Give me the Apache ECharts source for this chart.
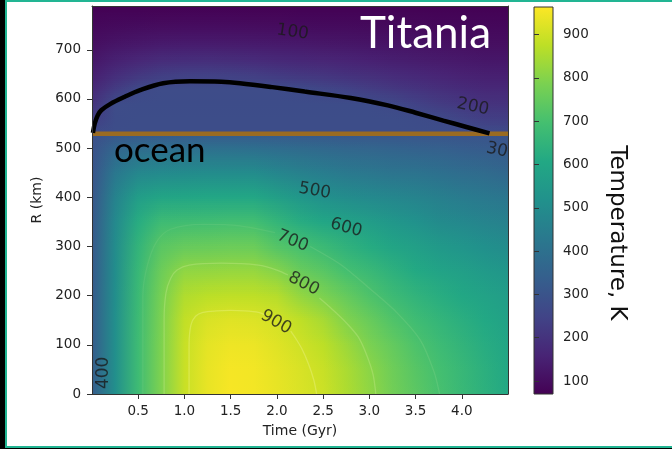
<!DOCTYPE html>
<html>
<head>
<meta charset="utf-8">
<script src="https://cdn.jsdelivr.net/npm/echarts@6/dist/echarts.min.js"></script>
<style>
html,body{margin:0;padding:0;background:#000;width:672px;height:449px;overflow:hidden;}
#frame{position:absolute;left:5px;top:0;width:667px;height:448px;box-sizing:border-box;background:#fff;border:2px solid #22b593;border-right:none;}
#chart{position:absolute;left:0;top:0;width:672px;height:449px;}
</style>
</head>
<body>
<div id="frame"></div>
<div id="chart"></div>
<script>
// ---------------- data ----------------
const timeGyr = [0, 0.25, 0.5, 0.75, 1.0, 1.25, 1.5, 1.75, 2.0, 2.25, 2.5, 2.75, 3.0, 3.25, 3.5, 3.75, 4.0, 4.25, 4.5];
const radiusKm = [0, 50, 100, 150, 200, 250, 300, 350, 400, 450, 500, 528, 532, 560, 590, 620, 650, 680, 710, 740, 770, 789];
// temperature (K), one row per radius above, one value per time above
const temperatureK = [
  [330,510,680,790,890,935,955,950,935,915,895,855,815,772,735,702,668,636,608],
  [330,510,680,790,890,934,953,948,932,912,890,850,808,766,728,695,663,632,604],
  [329,510,679,789,888,929,943,940,922,900,875,832,786,748,710,680,650,622,595],
  [328,509,677,786,880,912,922,918,905,878,845,793,755,715,683,655,630,606,580],
  [326,507,673,778,857,872,878,876,865,820,787,750,712,678,648,625,604,585,562],
  [323,504,665,762,815,818,822,822,800,755,730,695,670,638,610,588,570,553,535],
  [319,498,650,733,752,755,760,758,722,700,672,642,618,592,570,550,532,515,500],
  [314,488,622,680,686,688,693,690,655,622,600,585,562,540,520,497,485,472,460],
  [308,465,565,590,596,598,600,598,568,540,512,500,490,478,466,453,440,428,416],
  [301,425,480,492,497,498,500,498,478,460,445,432,423,415,408,400,390,380,368],
  [293,360,382,390,393,394,395,393,385,378,372,365,358,352,346,340,332,324,315],
  [288,305,312,316,318,320,320,320,318,315,313,310,308,306,304,302,300,298,295],
  [270,278,279,279,280,280,280,280,280,280,279,279,279,279,278,278,277,272,270],
  [233,276,277,277,277,277,277,277,277,277,277,277,277,277,276,270,251,234,233],
  [199,274,275,275,276,276,276,276,276,276,275,275,275,265,244,226,212,200,199],
  [171,225,265,274,274,274,274,274,274,268,255,243,229,215,202,190,180,171,171],
  [145,183,209,230,237,239,235,229,219,210,203,194,186,177,168,159,152,146,145],
  [124,148,165,178,183,184,181,177,171,166,161,156,150,144,138,133,129,124,124],
  [106,121,130,137,140,140,139,137,134,131,128,125,122,118,115,112,109,106,106],
  [91,98,103,106,107,107,107,106,104,102,101,100,98,97,95,93,92,91,91],
  [77,80,81,82,83,83,83,82,82,81,81,80,80,79,79,78,78,77,77],
  [70,70,70,70,70,70,70,70,70,70,70,70,70,70,70,70,70,70,70]
];
const xTickValues = [0.5, 1.0, 1.5, 2.0, 2.5, 3.0, 3.5, 4.0];
const yTickValues = [0, 100, 200, 300, 400, 500, 600, 700];
const cbarTickValues = [100, 200, 300, 400, 500, 600, 700, 800, 900];
const cbarRange = [70, 964];
const timeRange = [0, 4.5];
const radiusRange = [0, 789];
const oceanFloorKm = 529;
// black curve (base of the ice shell)
const iceBaseT = [0.01,0.03,0.06,0.1,0.2,0.35,0.52,0.77,1.06,1.4,1.6,1.95,2.3,2.8,3.2,3.5,3.8,4.05,4.3];
const iceBaseR = [531,550,566,577,590,604,618,632,636,635,632,624,615,602,587,572,556,543,530];
// faint contour lines (broken where the labels sit)
const contour900aT = [1.05,1.05,1.07,1.12,1.2,1.35,1.5,1.65,1.8,1.87];
const contour900aR = [0,100,140,158,166,169,170,169,166,161];
const contour900bT = [2.15,2.2,2.27,2.34,2.4,2.43];
const contour900bR = [128,114,92,62,28,0];
const contour800aT = [0.78,0.78,0.8,0.85,0.92,1.05,1.4,1.8,2.0,2.12];
const contour800aR = [0,150,205,235,252,262,266,262,252,242];
const contour800bT = [2.46,2.6,2.75,2.88,2.97,3.04,3.07];
const contour800bR = [195,172,145,116,80,40,0];
const contour700aT = [0.55,0.55,0.6,0.7,0.85,1.2,1.6,1.98];
const contour700aR = [0,200,262,310,335,345,342,328];
const contour700bT = [2.36,2.7,3.0,3.3,3.55,3.7,3.76];
const contour700bR = [300,262,215,165,110,45,0];
// contour labels
const contourLabelText = ['100','200','30','500','600','700','800','900','400'];
const contourLabelT = [2.17, 4.12, 4.38, 2.41, 2.75, 2.17, 2.29, 1.99, 0.12];
const contourLabelR = [736, 584, 496, 413, 338, 311, 224, 146, 43];

// ---------------- styles ----------------
const labelRotation = [-8, -12, -12, -10, -15, -22, -28, -30, 90];
const FONT = 'DejaVu Sans';
const AX = '#333';
const TXT = '#222';
const VIRIDIS = ['#440154','#482475','#414487','#355f8d','#2a788e','#21918c','#22a884','#44bf70','#7ad151','#bddf26','#fde725'];
const VRGB = VIRIDIS.map(h => [parseInt(h.slice(1,3),16), parseInt(h.slice(3,5),16), parseInt(h.slice(5,7),16)]);
function colorOf(v) {
  let f = (v - cbarRange[0]) / (cbarRange[1] - cbarRange[0]);
  f = Math.max(0, Math.min(1, f));
  const p = f * (VRGB.length - 1);
  const i = Math.min(Math.floor(p), VRGB.length - 2);
  const u = p - i, a = VRGB[i], b = VRGB[i + 1];
  return 'rgb(' + Math.round(a[0] + (b[0]-a[0])*u) + ',' + Math.round(a[1] + (b[1]-a[1])*u) + ',' + Math.round(a[2] + (b[2]-a[2])*u) + ')';
}
function rowGradient(row) {
  const t0 = timeGyr[0], t1 = timeGyr[timeGyr.length - 1];
  return { type: 'linear', x: 0, y: 0, x2: 1, y2: 0,
    colorStops: timeGyr.map((t, j) => ({ offset: (t - t0) / (t1 - t0), color: colorOf(row[j]) })) };
}
function renderField(params, api) {
  const i = api.value(2);
  const pLo = api.coord([timeGyr[0], radiusKm[i]]);
  const pHi = api.coord([timeGyr[timeGyr.length - 1], radiusKm[i + 1]]);
  const x = pLo[0], w = pHi[0] - pLo[0];
  const yBot = pLo[1], yTop = pHi[1], h = yBot - yTop;
  const children = [{ type: 'rect', shape: { x: x, y: Math.round(yTop), width: w, height: Math.round(yBot) - Math.round(yTop) }, style: { fill: rowGradient(temperatureK[i]) } }];
  const N = Math.max(1, Math.round(h / 2));
  const top = rowGradient(temperatureK[i + 1]);
  for (let k = 0; k < N; k++) {
    const y0 = Math.round(yBot - k * h / N), y1 = Math.round(yBot - (k + 1) * h / N);
    if (y0 - y1 <= 0) continue;
    children.push({ type: 'rect', shape: { x: x, y: y1, width: w, height: y0 - y1 }, style: { fill: top, opacity: (k + 0.5) / N } });
  }
  return { type: 'group', children: children };
}
function renderColorbar(params, api) {
  const p0 = api.coord([0, cbarRange[0]]), p1 = api.coord([1, cbarRange[1]]);
  return { type: 'rect', shape: { x: p0[0], y: p1[1], width: p1[0] - p0[0], height: p0[1] - p1[1] },
    style: { fill: { type: 'linear', x: 0, y: 1, x2: 0, y2: 0, colorStops: VIRIDIS.map((c, k) => ({ offset: k / (VIRIDIS.length - 1), color: c })) }, stroke: AX, lineWidth: 1 } };
}
function zip(a, b) { return a.map((v, i) => [v, b[i]]); }
function contourSeries(T, R, alpha) {
  return { type: 'line', data: zip(T, R), showSymbol: false, symbol: 'none', smooth: 0.3, silent: true, z: 3,
    lineStyle: { color: 'rgba(255,255,200,' + alpha + ')', width: 1.3 } };
}

const chart = echarts.init(document.getElementById('chart'), null, { renderer: 'canvas' });
const option = {
  animation: false,
  backgroundColor: 'transparent',
  grid: [
    { left: 92, top: 6, width: 416, height: 388 },
    { left: 534, top: 7, width: 19, height: 387 }
  ],
  xAxis: [
    { gridIndex: 0, type: 'value', min: timeRange[0], max: timeRange[1], position: 'bottom', z: 10,
      axisLine: { show: true, onZero: false, lineStyle: { color: AX, width: 1 } },
      axisTick: { show: true, customValues: xTickValues, length: 5, lineStyle: { color: AX } },
      axisLabel: { customValues: xTickValues, formatter: v => v.toFixed(1), color: TXT, fontFamily: FONT, fontSize: 13.5, margin: 10 },
      splitLine: { show: false },
      name: 'Time (Gyr)', nameLocation: 'middle', nameGap: 30, nameTextStyle: { color: TXT, fontFamily: FONT, fontSize: 14 } },
    { gridIndex: 0, type: 'value', min: timeRange[0], max: timeRange[1], position: 'top', z: 10,
      axisLine: { show: true, onZero: false, lineStyle: { color: AX, width: 1 } },
      axisTick: { show: false }, axisLabel: { show: false }, splitLine: { show: false } },
    { gridIndex: 1, type: 'value', min: 0, max: 1, show: false }
  ],
  yAxis: [
    { gridIndex: 0, type: 'value', min: radiusRange[0], max: radiusRange[1], position: 'left', z: 10,
      axisLine: { show: true, onZero: false, lineStyle: { color: AX, width: 1 } },
      axisTick: { show: true, customValues: yTickValues, length: 5, lineStyle: { color: AX } },
      axisLabel: { customValues: yTickValues, color: TXT, fontFamily: FONT, fontSize: 13.5, margin: 11 },
      splitLine: { show: false },
      name: 'R (km)', nameLocation: 'middle', nameGap: 45, nameTextStyle: { color: TXT, fontFamily: FONT, fontSize: 14 } },
    { gridIndex: 0, type: 'value', min: radiusRange[0], max: radiusRange[1], position: 'right', z: 10,
      axisLine: { show: true, onZero: false, lineStyle: { color: AX, width: 1 } },
      axisTick: { show: false }, axisLabel: { show: false }, splitLine: { show: false } },
    { gridIndex: 1, type: 'value', min: cbarRange[0], max: cbarRange[1], position: 'right', z: 10,
      axisLine: { show: false },
      axisTick: { show: true, customValues: cbarTickValues, length: 5, lineStyle: { color: AX } },
      axisLabel: { customValues: cbarTickValues, color: TXT, fontFamily: FONT, fontSize: 13.5, margin: 10 },
      splitLine: { show: false } }
  ],
  series: [
    { type: 'custom', name: 'field', xAxisIndex: 0, yAxisIndex: 0, renderItem: renderField, silent: true, z: 1, clip: true,
      encode: { x: 0, y: 1 },
      data: radiusKm.slice(0, -1).map((r, i) => [0, r, i]) },
    contourSeries(contour900aT, contour900aR, 0.25),
    contourSeries(contour900bT, contour900bR, 0.25),
    contourSeries(contour800aT, contour800aR, 0.2),
    contourSeries(contour800bT, contour800bR, 0.2),
    contourSeries(contour700aT, contour700aR, 0.07),
    contourSeries(contour700bT, contour700bR, 0.1),
    { type: 'line', data: [[timeRange[0], oceanFloorKm], [timeRange[1], oceanFloorKm]], showSymbol: false, symbol: 'none', silent: true, z: 4,
      lineStyle: { color: '#9a6b22', width: 4.5 } },
    { type: 'line', data: zip(iceBaseT, iceBaseR), showSymbol: false, symbol: 'none', smooth: 0.35, silent: true, z: 5,
      lineStyle: { color: '#000', width: 4.5 } },
    { type: 'scatter', symbolSize: 1, silent: true, z: 6, itemStyle: { color: 'transparent' },
      label: { show: true, position: 'inside', color: '#1a1a1a', fontFamily: FONT, fontSize: 17 },
      data: contourLabelText.map((s, i) => ({ value: [contourLabelT[i], contourLabelR[i]], label: { formatter: s, rotate: labelRotation[i] } })) },
    { type: 'custom', name: 'colorbar', xAxisIndex: 2, yAxisIndex: 2, renderItem: renderColorbar, silent: true, z: 2,
      data: [[0.5, (cbarRange[0] + cbarRange[1]) / 2]] }
  ],
  graphic: [
    { type: 'text', x: 360, y: 34, z: 20, style: { text: 'Titania', fill: '#fff', font: '44px Lato', verticalAlign: 'middle', align: 'left' } },
    { type: 'text', x: 114, y: 151, z: 20, style: { text: 'ocean', fill: '#000', font: '35px Lato', verticalAlign: 'middle', align: 'left' } },
    { type: 'text', x: 617, y: 233, rotation: -Math.PI / 2, z: 20, style: { text: 'Temperature, K', fill: '#111', font: '23px "DejaVu Sans"', verticalAlign: 'middle', align: 'center' } }
  ]
};
chart.setOption(option);
</script>
</body>
</html>
